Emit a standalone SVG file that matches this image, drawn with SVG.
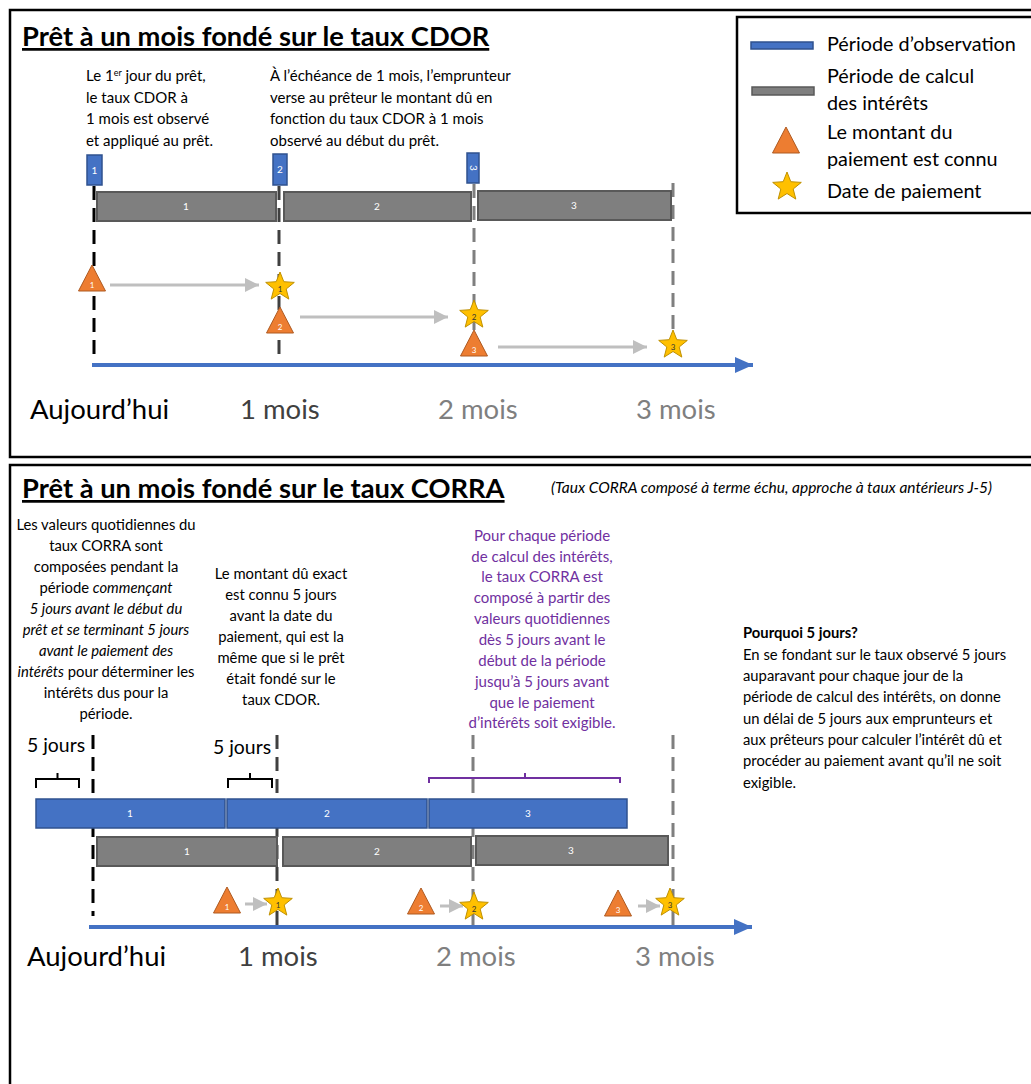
<svg xmlns="http://www.w3.org/2000/svg" width="1031" height="1084" viewBox="0 0 1031 1084">
<style>
text{font-family:Lato,"Liberation Sans",sans-serif;}
.panel{fill:none;stroke:#000;stroke-width:2.5;}
.title{font-size:27.3px;font-weight:bold;text-decoration:underline;}
.body{font-size:14.8px;fill:#000;}
.topbody{font-size:15px;}
.mid{text-anchor:middle;}
.purple{fill:#7030a0;font-size:15px;}
.leg{font-size:19.8px;}
.blue{fill:#4472c4;stroke:#2f528f;stroke-width:1.5;}
.gray{fill:#7f7f7f;stroke:#595959;stroke-width:2;}
.barlbl{font-size:10px;fill:#fff;text-anchor:middle;}
.tri{fill:#ed7d31;stroke:#ae5a21;stroke-width:1;}
.star{fill:#ffc000;stroke:#bf9000;stroke-width:1;}
.trilbl{font-size:8px;fill:#fff;text-anchor:middle;}
.starlbl{font-size:8px;fill:#333;text-anchor:middle;}
.axislbl{font-size:27.5px;}
.vd{fill:none;stroke-width:3;stroke-dasharray:14 8;}
.garrow{stroke:#bfbfbf;stroke-width:3;fill:none;}
.axis{stroke:#4472c4;stroke-width:4;fill:none;}
.brace{fill:none;stroke:#000;stroke-width:2;}
.pbrace{fill:none;stroke:#7030a0;stroke-width:2;}
.five{font-size:19.4px;}
</style>
<defs>
<path id="starp" d="M0,-15 L3.8,-5.3 L14.3,-4.6 L6.2,2 L8.8,12.1 L0,6.5 L-8.8,12.1 L-6.2,2 L-14.3,-4.6 L-3.8,-5.3 Z"/>
<path id="trip" d="M0,-13 L13.5,13 L-13.5,13 Z"/>
<marker id="gah" markerUnits="userSpaceOnUse" markerWidth="16" markerHeight="16" refX="14" refY="8" orient="auto"><path d="M0,1 L14,8 L0,15 Z" fill="#bfbfbf"/></marker>
<marker id="bah" markerUnits="userSpaceOnUse" markerWidth="20" markerHeight="18" refX="18" refY="9" orient="auto"><path d="M0,1 L18,9 L0,17 Z" fill="#4472c4"/></marker>
</defs>
<rect width="1031" height="1084" fill="#fff"/>

<!-- TOP PANEL -->
<g id="panel-cdor">
<rect class="panel" x="10" y="10" width="1030" height="447"/>
<text class="title" x="22" y="46">Prêt à un mois fondé sur le taux CDOR</text>
<text class="topbody" x="86" y="81">Le 1<tspan font-size="9" dy="-5">er</tspan><tspan dy="5"> jour du prêt,</tspan></text>
<text class="topbody" x="86" y="103">le taux CDOR à</text>
<text class="topbody" x="86" y="124">1 mois est observé</text>
<text class="topbody" x="86" y="146">et appliqué au prêt.</text>
<text class="topbody" x="270" y="81">À l’échéance de 1 mois, l’emprunteur</text>
<text class="topbody" x="270" y="103">verse au prêteur le montant dû en</text>
<text class="topbody" x="270" y="124">fonction du taux CDOR à 1 mois</text>
<text class="topbody" x="270" y="146">observé au début du prêt.</text>
</g>

<g id="legend">
<rect x="737" y="17" width="300" height="196" fill="#fff" stroke="#000" stroke-width="2.5"/>
<rect x="751" y="42" width="62" height="7" fill="#4472c4" stroke="#2f528f" stroke-width="1.5"/>
<text class="leg" x="827" y="51">Période d’observation</text>
<rect x="752" y="87" width="62" height="8" fill="#7f7f7f" stroke="#595959" stroke-width="1.5"/>
<text class="leg" x="827" y="83">Période de calcul</text>
<text class="leg" x="827" y="110">des intérêts</text>
<use href="#trip" class="tri" x="786" y="140"/>
<text class="leg" x="827" y="139">Le montant du</text>
<text class="leg" x="827" y="166">paiement est connu</text>
<use href="#starp" class="star" x="787" y="187"/>
<text class="leg" x="827" y="198">Date de paiement</text>
</g>

<!-- BOTTOM PANEL -->
<g id="panel-corra">
<rect class="panel" x="10" y="465" width="1030" height="640"/>
<text class="title" x="22" y="498">Prêt à un mois fondé sur le taux CORRA</text>
<text x="551" y="493" font-size="15.5" font-style="italic">(Taux CORRA composé à terme échu, approche à taux antérieurs J-5)</text>
</g>

<g id="connectors">
<line class="vd" x1="94" y1="186" x2="94" y2="362" stroke="#000"/>
<line class="vd" x1="279" y1="186" x2="279" y2="362" stroke="#404040"/>
<line class="vd" x1="474" y1="184" x2="474" y2="360" stroke="#7f7f7f"/>
<line class="vd" x1="673" y1="183" x2="673" y2="358" stroke="#7f7f7f"/>
<line class="axis" x1="92" y1="365" x2="753" y2="365" marker-end="url(#bah)"/>
<line class="garrow" x1="110" y1="285" x2="259" y2="285" marker-end="url(#gah)"/>
<line class="garrow" x1="300" y1="317" x2="448" y2="317" marker-end="url(#gah)"/>
<line class="garrow" x1="498" y1="347" x2="647" y2="347" marker-end="url(#gah)"/>

<line class="vd" x1="93" y1="735" x2="93" y2="916" stroke="#000"/>
<line class="vd" x1="277" y1="735" x2="277" y2="928" stroke="#404040"/>
<line class="vd" x1="473" y1="735" x2="473" y2="928" stroke="#7f7f7f"/>
<line class="vd" x1="673" y1="735" x2="673" y2="928" stroke="#7f7f7f"/>
<line class="axis" x1="89" y1="927" x2="752" y2="927" marker-end="url(#bah)"/>
<line class="garrow" x1="245" y1="904" x2="267" y2="904" marker-end="url(#gah)"/>
<line class="garrow" x1="440" y1="906" x2="463" y2="906" marker-end="url(#gah)"/>
<line class="garrow" x1="638" y1="906" x2="660" y2="906" marker-end="url(#gah)"/>
</g>

<g id="top-obs">
<rect class="blue" x="87" y="155" width="15" height="30"/><text class="barlbl" x="94.5" y="174">1</text>
<rect class="blue" x="273" y="154" width="14" height="31"/><text class="barlbl" x="280" y="173">2</text>
<rect class="blue" x="467" y="153" width="12" height="30"/><text class="barlbl" transform="translate(473,168) rotate(90)" x="0" y="3.5">3</text>
</g>
<g id="top-calc">
<rect class="gray" x="97" y="192" width="179" height="29"/><text class="barlbl" x="186" y="210">1</text>
<rect class="gray" x="284" y="192" width="187" height="29"/><text class="barlbl" x="377" y="210">2</text>
<rect class="gray" x="478" y="191" width="193" height="29"/><text class="barlbl" x="574" y="209">3</text>
</g>
<g id="top-events">
<use href="#trip" class="tri" x="92" y="278"/><text class="trilbl" x="92" y="288">1</text>
<use href="#starp" class="star" x="280" y="287"/><text class="starlbl" x="280" y="292">1</text>
<use href="#trip" class="tri" x="280" y="320"/><text class="trilbl" x="280" y="330">2</text>
<use href="#starp" class="star" x="474" y="315"/><text class="starlbl" x="474" y="320">2</text>
<use href="#trip" class="tri" x="474" y="343"/><text class="trilbl" x="474" y="353">3</text>
<use href="#starp" class="star" x="673" y="345"/><text class="starlbl" x="673" y="350">3</text>
</g>
<g id="top-axis-labels">
<text class="axislbl" x="30" y="419">Aujourd’hui</text>
<text class="axislbl" x="240" y="419" fill="#404040">1 mois</text>
<text class="axislbl" x="438" y="419" fill="#7f7f7f">2 mois</text>
<text class="axislbl" x="636" y="419" fill="#7f7f7f">3 mois</text>
</g>

<g id="text-left" class="body">
<text class="mid" x="106" y="530">Les valeurs quotidiennes du</text>
<text class="mid" x="106" y="551">taux CORRA sont</text>
<text class="mid" x="106" y="572">composées pendant la</text>
<text class="mid" x="106" y="593">période <tspan font-style="italic">commençant</tspan></text>
<text class="mid" x="106" y="614" font-style="italic">5 jours avant le début du</text>
<text class="mid" x="106" y="635" font-style="italic">prêt et se terminant 5 jours</text>
<text class="mid" x="106" y="656" font-style="italic">avant le paiement des</text>
<text class="mid" x="106" y="677"><tspan font-style="italic">intérêts</tspan> pour déterminer les</text>
<text class="mid" x="106" y="698">intérêts dus pour la</text>
<text class="mid" x="106" y="719">période.</text>
</g>
<g id="text-mid" class="body">
<text class="mid" x="281" y="579">Le montant dû exact</text>
<text class="mid" x="281" y="600">est connu 5 jours</text>
<text class="mid" x="281" y="621">avant la date du</text>
<text class="mid" x="281" y="642">paiement, qui est la</text>
<text class="mid" x="281" y="663">même que si le prêt</text>
<text class="mid" x="281" y="684">était fondé sur le</text>
<text class="mid" x="281" y="705">taux CDOR.</text>
</g>
<g id="text-purple" class="purple">
<text class="mid" x="542" y="541">Pour chaque période</text>
<text class="mid" x="542" y="562">de calcul des intérêts,</text>
<text class="mid" x="542" y="582">le taux CORRA est</text>
<text class="mid" x="542" y="603">composé à partir des</text>
<text class="mid" x="542" y="624">valeurs quotidiennes</text>
<text class="mid" x="542" y="645">dès 5 jours avant le</text>
<text class="mid" x="542" y="666">début de la période</text>
<text class="mid" x="542" y="687">jusqu’à 5 jours avant</text>
<text class="mid" x="542" y="708">que le paiement</text>
<text class="mid" x="542" y="728">d’intérêts soit exigible.</text>
</g>
<g id="text-right" class="body">
<text x="743" y="638" font-weight="bold">Pourquoi 5 jours?</text>
<text x="743" y="660">En se fondant sur le taux observé 5 jours</text>
<text x="743" y="681">auparavant pour chaque jour de la</text>
<text x="743" y="702">période de calcul des intérêts, on donne</text>
<text x="743" y="724">un délai de 5 jours aux emprunteurs et</text>
<text x="743" y="745">aux prêteurs pour calculer l’intérêt dû et</text>
<text x="743" y="766">procéder au paiement avant qu’il ne soit</text>
<text x="743" y="788">exigible.</text>
</g>
<g id="five-days">
<text class="five" x="27" y="752">5 jours</text>
<text class="five" x="213" y="754">5 jours</text>
<path class="brace" d="M36,788 V779 H57.5 V773 M57.5,779 H79 V788"/>
<path class="brace" d="M228,788 V779 H250 V773 M250,779 H272 V788"/>
<path class="pbrace" d="M429,783 V778 H525 V773 M525,778 H620 V783"/>
</g>
<g id="bot-obs">
<rect class="blue" x="36" y="799" width="189" height="29"/><text class="barlbl" x="130" y="817">1</text>
<rect class="blue" x="227" y="799" width="200" height="29"/><text class="barlbl" x="327" y="817">2</text>
<rect class="blue" x="429" y="799" width="198" height="29"/><text class="barlbl" x="528" y="817">3</text>
</g>
<g id="bot-calc">
<rect class="gray" x="97" y="837" width="180" height="29"/><text class="barlbl" x="187" y="855">1</text>
<rect class="gray" x="283" y="837" width="188" height="29"/><text class="barlbl" x="377" y="855">2</text>
<rect class="gray" x="476" y="836" width="192" height="29"/><text class="barlbl" x="571" y="854">3</text>
</g>
<g id="bot-events">
<use href="#trip" class="tri" x="227" y="900"/><text class="trilbl" x="227" y="910">1</text>
<use href="#starp" class="star" x="278" y="903"/><text class="starlbl" x="278" y="908">1</text>
<use href="#trip" class="tri" x="421" y="901"/><text class="trilbl" x="421" y="911">2</text>
<use href="#starp" class="star" x="474" y="907"/><text class="starlbl" x="474" y="912">2</text>
<use href="#trip" class="tri" x="618" y="903"/><text class="trilbl" x="618" y="913">3</text>
<use href="#starp" class="star" x="670" y="903"/><text class="starlbl" x="670" y="908">3</text>
</g>
<g id="bot-axis-labels">
<text class="axislbl" x="27" y="966">Aujourd’hui</text>
<text class="axislbl" x="238" y="966" fill="#404040">1 mois</text>
<text class="axislbl" x="436" y="966" fill="#7f7f7f">2 mois</text>
<text class="axislbl" x="635" y="966" fill="#7f7f7f">3 mois</text>
</g>
</svg>
